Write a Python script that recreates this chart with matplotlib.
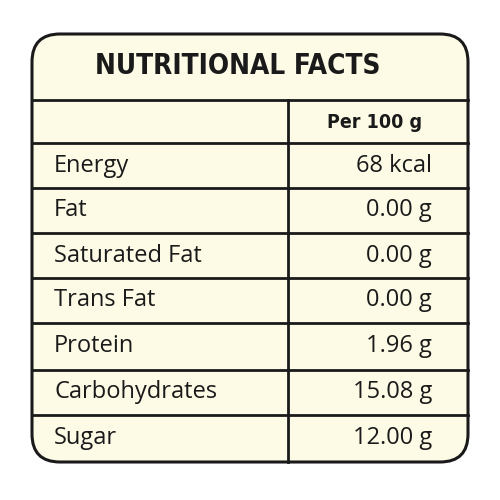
import matplotlib
matplotlib.use("Agg")
import matplotlib.pyplot as plt
from matplotlib.patches import FancyBboxPatch

title = "NUTRITIONAL FACTS"
header = "Per 100 g"
nutrients = ["Energy", "Fat", "Saturated Fat", "Trans Fat", "Protein", "Carbohydrates", "Sugar"]
amounts = ["68 kcal", "0.00 g", "0.00 g", "0.00 g", "1.96 g", "15.08 g", "12.00 g"]

bg = "#fdfbe6"
ink = "#1a1a1a"

fig = plt.figure(figsize=(5, 5), dpi=100)
fig.patch.set_facecolor("white")
ax = fig.add_axes([0, 0, 1, 1])
ax.set_xlim(0, 500)
ax.set_ylim(500, 0)
ax.axis("off")

box = FancyBboxPatch((32, 34), 436, 428, boxstyle="round,pad=0,rounding_size=28",
                     facecolor=bg, edgecolor=ink, linewidth=2.2)
ax.add_patch(box)

ax.text(238, 66, title, ha="center", va="center", fontsize=20, fontweight="bold",
        family="DejaVu Sans", fontstretch="condensed", color=ink)

# row boundaries
rows = [100, 143, 188, 233, 278, 323, 370, 415, 462]
for y in rows[:-1]:
    ax.plot([32, 468], [y, y], color=ink, lw=2)
ax.plot([288, 288], [100, 462], color=ink, lw=2)

ax.text(375, 122, header, ha="center", va="center", fontsize=14, fontweight="bold",
        family="DejaVu Sans", fontstretch="condensed", color=ink)

for i, (n, a) in enumerate(zip(nutrients, amounts)):
    yc = (rows[i + 1] + rows[i + 2]) / 2
    ax.text(54, yc, n, ha="left", va="center", fontsize=17, family=["Open Sans", "DejaVu Sans"], color=ink)
    ax.text(432, yc, a, ha="right", va="center", fontsize=17, family=["Open Sans", "DejaVu Sans"], color=ink)

fig.savefig("out.png", dpi=100)
